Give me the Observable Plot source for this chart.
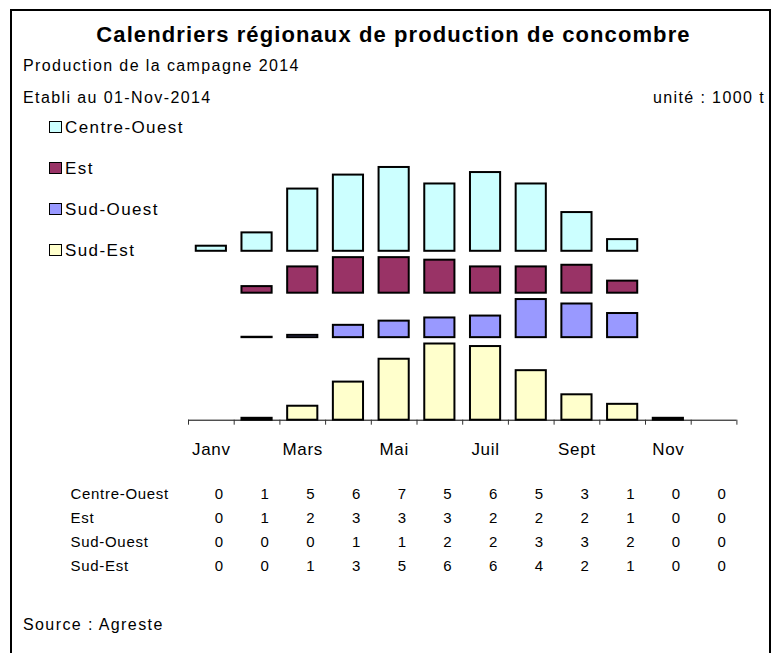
<!DOCTYPE html>
<html>
<head>
<meta charset="utf-8">
<script src="https://cdn.jsdelivr.net/npm/d3@7"></script>
<script src="https://cdn.jsdelivr.net/npm/@observablehq/plot@0.6"></script>
<style>
  html, body { margin: 0; padding: 0; background: white; }
  body { font-family: "Liberation Sans", Arial, sans-serif; color: black; }
  #page { position: relative; width: 778px; height: 653px; overflow: hidden; }
  #frame { position: absolute; left: 10px; top: 9px; width: 761px; height: 720px; border: 2px solid black; box-sizing: border-box; }
  .t { position: absolute; line-height: 1; white-space: nowrap; }
  #title { left: 0; width: 787px; text-align: center; top: 23.7px; font-size: 22px; font-weight: bold; letter-spacing: 1.1px; }
  #sub { left: 23px; top: 58.1px; font-size: 16px; letter-spacing: 1.4px; }
  #etabli { left: 23px; top: 89.8px; font-size: 16px; letter-spacing: 1.4px; }
  #unit { right: 13px; top: 89.8px; font-size: 16px; letter-spacing: 1.4px; }
  #source { left: 23px; top: 616.5px; font-size: 16px; letter-spacing: 1.4px; }
  #legend { position: absolute; left: 49px; top: 106.9px; font-size: 17px; line-height: 41.1px; letter-spacing: 1.4px; z-index: 2; }
  #legend .sw { display: inline-block; width: 11px; height: 10px; border: 1.5px solid black; margin-right: 3px; }
  #chart { position: absolute; left: 0; top: 150px; }
  #table { position: absolute; left: 0; top: 475px; }
</style>
</head>
<body>
<div id="page">
  <div id="frame"></div>
  <div class="t" id="title">Calendriers régionaux de production de concombre</div>
  <div class="t" id="sub">Production de la campagne 2014</div>
  <div class="t" id="etabli">Etabli au 01-Nov-2014</div>
  <div class="t" id="unit">unité : 1000 t</div>
  <div id="legend"></div>
  <div id="chart"></div>
  <div id="table"></div>
  <div class="t" id="source">Source : Agreste</div>
</div>
<script>
// ---- data (1000 t) ----
const months = ["Janv", "Févr", "Mars", "Avr", "Mai", "Juin", "Juil", "Août", "Sept", "Oct", "Nov", "Déc"];
const tickLabels = ["Janv", "", "Mars", "", "Mai", "", "Juil", "", "Sept", "", "Nov", ""];
const regions = ["Centre-Ouest", "Est", "Sud-Ouest", "Sud-Est"];
const colors = ["#CCFFFF", "#993366", "#9999FF", "#FFFFCC"];
const centreOuest = [0.4, 1.45, 4.9, 6.0, 6.6, 5.3, 6.2, 5.3, 3.05, 0.92, 0, 0];
const est        = [0, 0.52, 2.07, 2.8, 2.8, 2.6, 2.07, 2.07, 2.2, 0.95, 0, 0];
const sudOuest   = [0, 0.03, 0.18, 0.97, 1.3, 1.55, 1.7, 3.0, 2.65, 1.9, 0, 0];
const sudEst     = [0, 0.15, 1.1, 3.0, 4.8, 6.0, 5.8, 3.9, 2.0, 1.25, 0.15, 0];

const series = {"Centre-Ouest": centreOuest, "Est": est, "Sud-Ouest": sudOuest, "Sud-Est": sudEst};
const gap = 0.5;

// baselines: each region stacked above the previous one's maximum
const stackOrder = ["Sud-Est", "Sud-Ouest", "Est", "Centre-Ouest"];
const base = {};
let acc = 0;
for (const r of stackOrder) { base[r] = acc; acc += d3.max(series[r]) + gap; }

const bars = [];
for (const r of regions) series[r].forEach((v, i) => { if (v > 0) bars.push({region: r, i, month: months[i], value: v, base: base[r]}); });
const tableRows = [];
for (const r of regions) series[r].forEach((v, i) => tableRows.push({region: r, i, value: v}));

// ---- legend ----
const legend = d3.select("#legend");
regions.forEach((r, k) => {
  const row = legend.append("div");
  row.append("span").attr("class", "sw").style("background", colors[k]);
  row.append("span").text(r);
});

const font = "'Liberation Sans', Arial, sans-serif";

// ---- chart ----
const chart = Plot.plot({
  width: 778, height: 320,
  marginLeft: 188, marginRight: 41.6, marginTop: 15.7, marginBottom: 50.3,
  x: {domain: [0, 12], axis: null},
  y: {domain: [0, 20], axis: null},
  color: {domain: regions, range: colors},
  style: {background: "none", fontFamily: font, fontSize: "17px", color: "black", letterSpacing: "0.7px", overflow: "visible"},
  marks: [
    Plot.rect(bars, {x1: d => d.i + 0.17, x2: d => d.i + 0.83, y1: "base", y2: d => d.base + d.value, fill: "region", stroke: "black", strokeWidth: 2}),
    Plot.ruleY([0], {stroke: "black", strokeWidth: 1}),
    Plot.axisX({ticks: d3.range(13), tickSize: 5, tickFormat: () => "", stroke: "#333"}),
    Plot.axisX({ticks: d3.range(12).map(i => i + 0.5), tickSize: 0, tickPadding: 22.4, tickFormat: d => tickLabels[Math.floor(d)], fontSize: 17, fill: "black"})
  ]
});
document.getElementById("chart").append(chart);

// ---- data table ----
const table = Plot.plot({
  width: 778, height: 110,
  marginLeft: 196, marginRight: 33.6, marginTop: 17.9, marginBottom: 17.4,
  x: {domain: [0, 12], axis: null},
  y: {type: "point", domain: regions, padding: 0, axis: null},
  style: {background: "none", fontFamily: font, fontSize: "15px", color: "black", letterSpacing: "0.7px", overflow: "visible"},
  marks: [
    Plot.text(tableRows, {x: d => d.i + 0.5, y: "region", text: d => String(Math.round(d.value)), fill: "black", fontSize: 15}),
    Plot.text(regions, {y: d => d, frameAnchor: "left", textAnchor: "start", dx: -126, text: d => d, fill: "black", fontSize: 15})
  ]
});
document.getElementById("table").append(table);
</script>
</body>
</html>
